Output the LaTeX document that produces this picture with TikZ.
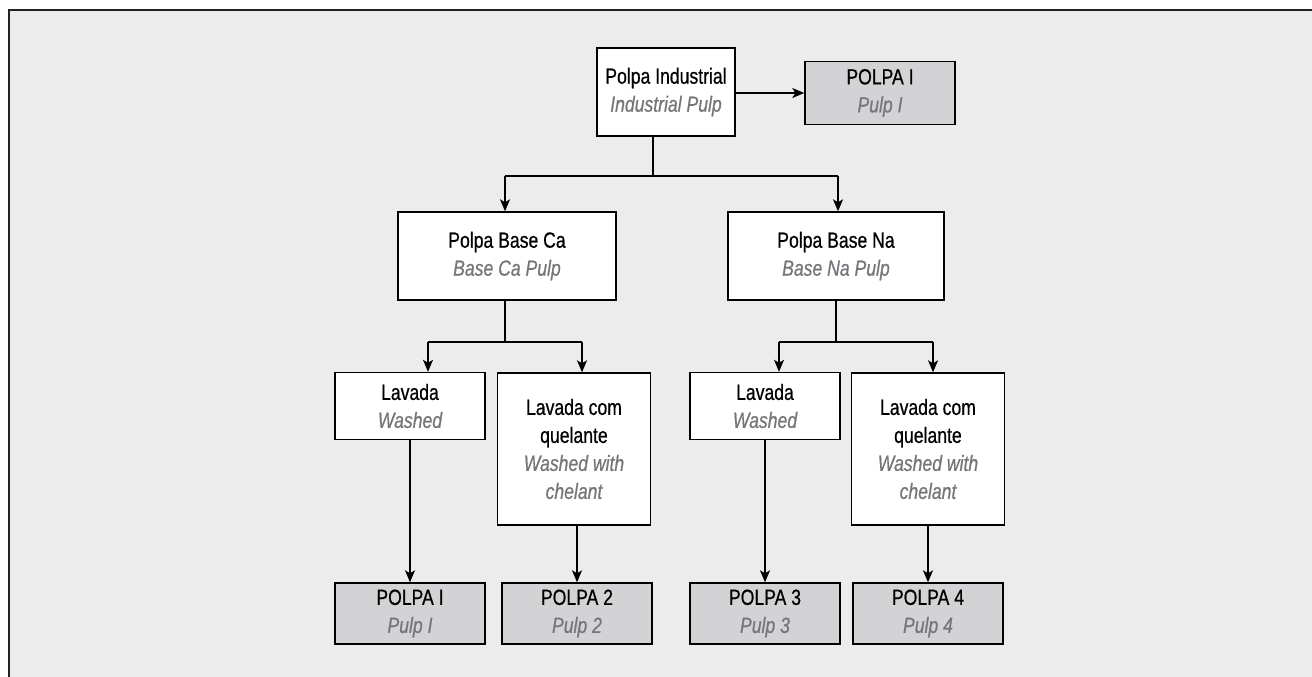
\documentclass[tikz,border=0pt]{standalone}
\usepackage{fontspec}
\setmainfont{Liberation Sans}[FakeStretch=0.8,FakeBold=0.6]
\usetikzlibrary{arrows.meta,positioning}
\definecolor{pfback}{HTML}{ECECEC}
\definecolor{pfgrey}{HTML}{D3D3D5}
\definecolor{pftext}{HTML}{76767A}
\definecolor{pfframe}{HTML}{222222}
\tikzset{
  box/.style={draw=black,fill=white,line width=0.7pt,align=center,
              inner sep=2pt,font=\fontsize{11}{14}\selectfont},
  pulp/.style={box,fill=pfgrey,minimum width=75pt,minimum height=30.5pt},
  wash/.style={box,minimum width=75pt,minimum height=33.5pt},
  chel/.style={box,minimum width=76.5pt,minimum height=76pt},
  ar/.style={-{Stealth[length=6pt,width=5pt,inset=1.5pt]},line width=0.7pt},
  ln/.style={line width=0.7pt},
}
\newcommand{\en}[1]{{\color{pftext}\itshape #1}}

\begin{document}
\begin{tikzpicture}[x=0.5pt,y=-0.5pt]
  \useasboundingbox (0,0) rectangle (1312,676);
  \fill[pfback] (9,10) rectangle (1330,690);
  \draw[pfframe,line width=1.1pt] (9,690) -- (9,10) -- (1330,10);

  % top level
  \node[box,minimum width=69pt,minimum height=44pt] (ind) at (666,92) {Polpa Industrial\\\en{Industrial Pulp}};
  \node[pulp,minimum height=31.5pt] (p0) at (880,93) {POLPA I\\\en{Pulp I}};
  \draw[ar] (ind.east|-p0) -- (p0.west);

  % base pulps
  \node[box,minimum width=109pt,minimum height=44pt] (ca) at (507,256) {Polpa Base Ca\\\en{Base Ca Pulp}};
  \node[box,minimum width=108pt,minimum height=44pt] (na) at (836,256) {Polpa Base Na\\\en{Base Na Pulp}};
  \coordinate (j0) at (653,176);
  \coordinate (j0l) at (505,176);
  \coordinate (j0r) at (838,176);
  \draw[ln] (ind.south-|j0) -- (j0);
  \draw[ln] (j0l) -- (j0r);
  \draw[ar] (j0l) -- (j0l|-ca.north);
  \draw[ar] (j0r) -- (j0r|-na.north);

  % washing, Ca side
  \node[wash] (lavca) at (410,406) {Lavada\\\en{Washed}};
  \node[chel] (qca) at (574,449) {Lavada com\\quelante\\\en{Washed with}\\\en{chelant}};
  \coordinate (j1) at (505,342);
  \coordinate (j1l) at (428,342);
  \coordinate (j1r) at (582,342);
  \draw[ln] (ca.south-|j1) -- (j1);
  \draw[ln] (j1l) -- (j1r);
  \draw[ar] (j1l) -- (j1l|-lavca.north);
  \draw[ar] (j1r) -- (j1r|-qca.north);

  % washing, Na side
  \node[wash] (lavna) at (765,406) {Lavada\\\en{Washed}};
  \node[chel] (qna) at (928,449) {Lavada com\\quelante\\\en{Washed with}\\\en{chelant}};
  \coordinate (j2) at (836,342);
  \coordinate (j2l) at (779,342);
  \coordinate (j2r) at (933,342);
  \draw[ln] (na.south-|j2) -- (j2);
  \draw[ln] (j2l) -- (j2r);
  \draw[ar] (j2l) -- (j2l|-lavna.north);
  \draw[ar] (j2r) -- (j2r|-qna.north);

  % final pulps
  \node[pulp] (p1) at (410,613.5) {POLPA I\\\en{Pulp I}};
  \node[pulp] (p2) at (577,613.5) {POLPA 2\\\en{Pulp 2}};
  \node[pulp] (p3) at (765,613.5) {POLPA 3\\\en{Pulp 3}};
  \node[pulp] (p4) at (928,613.5) {POLPA 4\\\en{Pulp 4}};
  \draw[ar] (lavca) -- (p1);
  \draw[ar] (qca.south-|p2) -- (p2);
  \draw[ar] (lavna) -- (p3);
  \draw[ar] (qna) -- (p4);
\end{tikzpicture}
\end{document}
